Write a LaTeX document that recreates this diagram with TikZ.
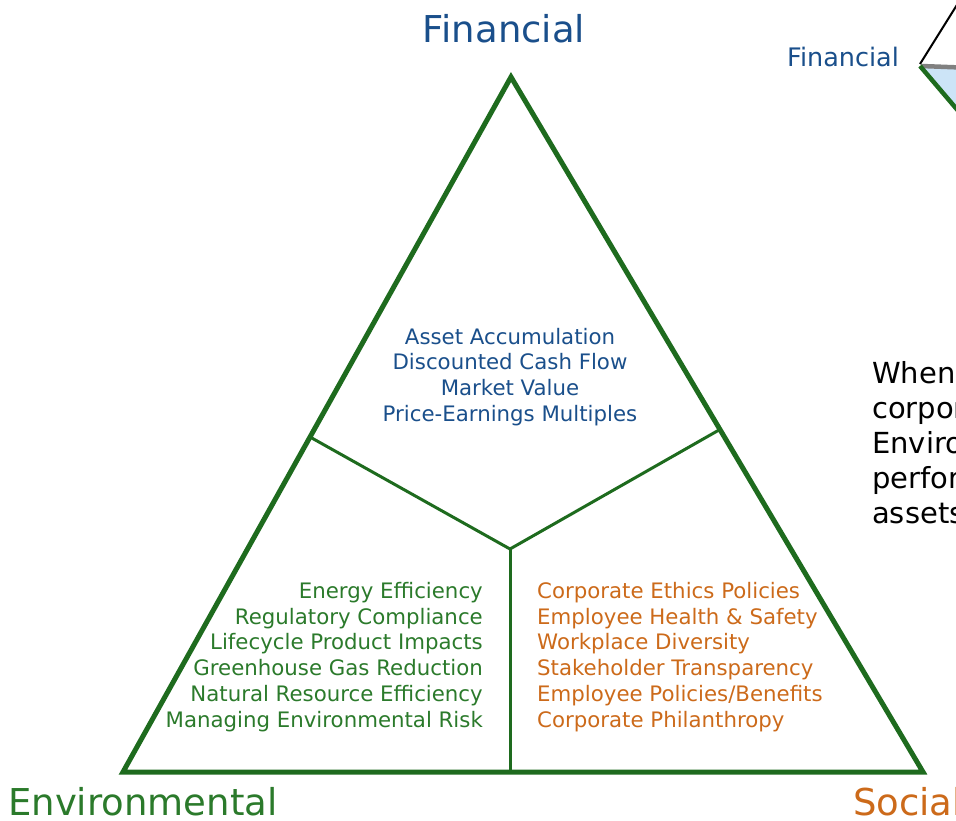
\documentclass[tikz,border=0pt]{standalone}
\usepackage{fontspec}
\setmainfont{DejaVu Sans}
\definecolor{finblue}{HTML}{1A4F8B}
\definecolor{envgreen}{HTML}{2B7A2B}
\definecolor{linegreen}{HTML}{1E6B1E}
\definecolor{socorange}{HTML}{CC6A1A}
\definecolor{iconblue}{HTML}{CCE4F7}
\begin{document}
\begin{tikzpicture}[x=1pt,y=-1pt,
  bigtitle/.style={inner sep=0pt,font=\fontsize{37}{40}\selectfont},
  listtext/.style={inner sep=0pt,font=\fontsize{21.3}{25.9}\selectfont},
  edge/.style={draw=linegreen,line width=5pt},
  divider/.style={draw=linegreen,line width=3pt}]
\useasboundingbox (0,0) rectangle (956,821);
\clip (0,0) rectangle (956,821);
% main triangle
\coordinate (apex) at (511,77);
\coordinate (bl) at (123,772);
\coordinate (br) at (923,772);
\coordinate (ctr) at (510,549);
\coordinate (lm) at (310,437);
\coordinate (rm) at (719,430);
\coordinate (bm) at (510,772);
\draw[edge,line join=miter] (apex) -- (bl) -- (br) -- cycle;
\draw[divider] (lm) -- (ctr) -- (rm);
\draw[divider] (ctr) -- (bm);
% corner titles
\node[bigtitle,text=finblue,anchor=base] (fin) at (504,43) {Financial};
\node[bigtitle,text=envgreen,anchor=base west] (env) at (8,815) {Environmental};
\node[bigtitle,text=socorange,anchor=base west] (soc) at (853,815) {Social};
% lists
\node[listtext,text=finblue,align=center] (finlist) at (510,377)
  {Asset Accumulation\\Discounted Cash Flow\\Market Value\\Price-Earnings Multiples};
\node[listtext,text=envgreen,align=right,anchor=east] (envlist) at (483,657)
  {Energy Efficiency\\Regulatory Compliance\\Lifecycle Product Impacts\\Greenhouse Gas Reduction\\Natural Resource Efficiency\\Managing Environmental Risk};
\node[listtext,text=socorange,align=left,anchor=west] (soclist) at (537,657)
  {Corporate Ethics Policies\\Employee Health \& Safety\\Workplace Diversity\\Stakeholder Transparency\\Employee Policies/Benefits\\Corporate Philanthropy};
% small icon top right
\coordinate (iv) at (920,64);
\fill[iconblue] (922,68) -- (1000,70) -- (1000,160) -- cycle;
\draw[black,line width=2pt] (iv) -- (990,-48);
\draw[gray,line width=4.5pt] (921,66) -- (1000,69);
\draw[linegreen,line width=4.5pt] (920,66) -- (1000,160);
\node[inner sep=0pt,font=\fontsize{25.5}{30}\selectfont,text=finblue,anchor=base west] (finsmall) at (787,67) {Financial};
% right text
\node[inner sep=0pt,font=\fontsize{29}{35}\selectfont,align=left,anchor=north west] (desc) at (872,361)
  {When corporations\\corporate\\Environmental\\performance\\assets};
\end{tikzpicture}
\end{document}
